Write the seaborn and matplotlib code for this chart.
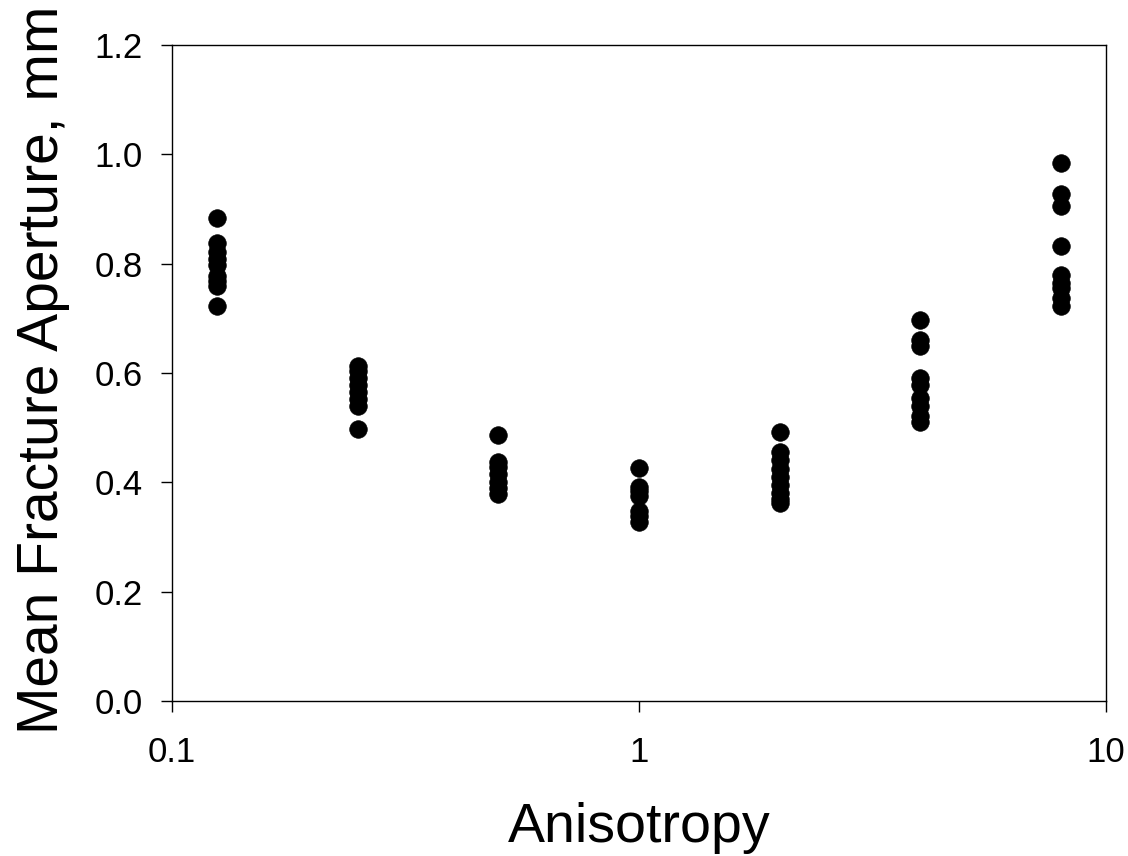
import numpy as np
import pandas as pd
import matplotlib
matplotlib.use("Agg")
import matplotlib.pyplot as plt
import seaborn as sns

# Anisotropy levels and the mean fracture aperture (mm) of each realization
aniso_0125 = [0.883, 0.838, 0.822, 0.808, 0.797, 0.778, 0.768, 0.760, 0.722]
aniso_025 = [0.612, 0.603, 0.590, 0.578, 0.565, 0.552, 0.540, 0.497]
aniso_05 = [0.486, 0.437, 0.428, 0.415, 0.400, 0.390, 0.378]
aniso_1 = [0.427, 0.392, 0.385, 0.375, 0.348, 0.338, 0.328]
aniso_2 = [0.492, 0.455, 0.440, 0.425, 0.410, 0.395, 0.380, 0.370, 0.362]
aniso_4 = [0.697, 0.660, 0.650, 0.590, 0.578, 0.555, 0.540, 0.522, 0.510]
aniso_8 = [0.985, 0.928, 0.905, 0.832, 0.780, 0.765, 0.755, 0.738, 0.722]

levels = [0.125, 0.25, 0.5, 1, 2, 4, 8]
groups = [aniso_0125, aniso_025, aniso_05, aniso_1, aniso_2, aniso_4, aniso_8]

x_ticks = [0.1, 1, 10]
x_tick_labels = ["0.1", "1", "10"]
y_ticks = [0.0, 0.2, 0.4, 0.6, 0.8, 1.0, 1.2]
y_tick_labels = ["0.0", "0.2", "0.4", "0.6", "0.8", "1.0", "1.2"]

df = pd.DataFrame({
    "Anisotropy": np.concatenate([[lv] * len(g) for lv, g in zip(levels, groups)]),
    "Aperture": np.concatenate(groups),
})

sns.set_theme(style="white")
plt.rcParams["font.family"] = ["Liberation Sans", "DejaVu Sans"]

fig = plt.figure(figsize=(11.28, 8.56), dpi=100)
ax = fig.add_axes([172 / 1128, 1 - 701 / 856, (1106 - 172) / 1128, (701 - 45) / 856])

sns.scatterplot(data=df, x="Anisotropy", y="Aperture", ax=ax,
                color="black", s=160, edgecolor="black", linewidth=0.5,
                legend=False, zorder=3)

ax.set_xscale("log")
ax.set_xlim(0.1, 10)
ax.set_ylim(0.0, 1.2)
ax.set_xticks(x_ticks)
ax.set_xticklabels(x_tick_labels)
ax.xaxis.set_minor_locator(matplotlib.ticker.NullLocator())
ax.set_yticks(y_ticks)
ax.set_yticklabels(y_tick_labels)

ax.tick_params(axis="both", which="major", direction="out", length=8, width=1,
               color="black", labelsize=25, labelcolor="black",
               bottom=True, left=True, top=False, right=False)
ax.tick_params(axis="x", pad=17)
ax.tick_params(axis="y", pad=13)

for side in ["top", "right", "bottom", "left"]:
    ax.spines[side].set_visible(True)
    ax.spines[side].set_color("black")
    ax.spines[side].set_linewidth(1.0)

ax.set_xlabel("Anisotropy", fontsize=40, color="black")
ax.set_ylabel("Mean Fracture Aperture, mm", fontsize=41, color="black")
ax.xaxis.set_label_coords(0.5, -0.154)
ax.yaxis.set_label_coords(-0.109, 0.505)

fig.savefig("out.png", dpi=100, facecolor="white")
